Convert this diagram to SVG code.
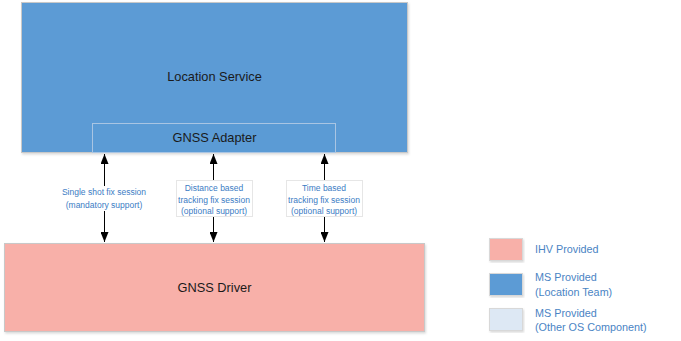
<svg xmlns="http://www.w3.org/2000/svg" width="681" height="341" viewBox="0 0 681 341">
<style>
.main{font-family:"Liberation Sans",Arial,sans-serif;font-size:12.8px;fill:#1a1a1a;text-anchor:middle}
.lbl{font-family:"Liberation Sans",Arial,sans-serif;font-size:8.5px;fill:#3b7cc4;text-anchor:middle}
.leg{font-family:"Liberation Sans",Arial,sans-serif;font-size:10.8px;fill:#4a84c4}
.line{stroke:#000;stroke-width:1;fill:none}
</style>
<defs>
<marker id="ah" viewBox="0 0 10 8" refX="10" refY="4" markerWidth="10" markerHeight="8" markerUnits="userSpaceOnUse" orient="auto-start-reverse">
<path d="M0,0 L10,4 L0,8 z" fill="#000"/>
</marker>
<filter id="sh" x="-5%" y="-5%" width="110%" height="115%">
<feDropShadow dx="1" dy="1.5" stdDeviation="1" flood-color="#000" flood-opacity="0.15"/>
</filter>
</defs>
<rect width="681" height="341" fill="#fff"/>
<g id="location-service">
<rect x="21.5" y="2.5" width="386" height="150" fill="#5b9bd5" stroke="#c8c8c8" stroke-width="1" filter="url(#sh)"/>
<text class="main" x="214.5" y="81">Location Service</text>
</g>
<g id="gnss-adapter">
<rect x="92.5" y="123.5" width="243" height="29" fill="#5b9bd5" stroke="#a9c5e3" stroke-width="1"/>
<text class="main" x="214.5" y="142">GNSS Adapter</text>
</g>
<g id="gnss-driver">
<rect x="4.5" y="243.5" width="420" height="88" fill="#f8b0a9" stroke="#c8c8c8" stroke-width="1" filter="url(#sh)"/>
<text class="main" x="214.5" y="292">GNSS Driver</text>
</g>
<g id="connectors">
<line class="line" x1="104.5" y1="154" x2="104.5" y2="242" marker-start="url(#ah)" marker-end="url(#ah)"/>
<line class="line" x1="213.5" y1="154" x2="213.5" y2="242" marker-start="url(#ah)" marker-end="url(#ah)"/>
<line class="line" x1="324.5" y1="154" x2="324.5" y2="242" marker-start="url(#ah)" marker-end="url(#ah)"/>
<rect x="60" y="186" width="88" height="25" fill="#fff"/>
<text class="lbl" x="104" y="195">Single shot fix session</text>
<text class="lbl" x="104" y="208">(mandatory support)</text>
<rect x="176.5" y="180.5" width="76" height="36" fill="#fff" stroke="#e6e6e6" stroke-width="1"/>
<text class="lbl" x="214" y="191">Distance based</text>
<text class="lbl" x="214" y="202.5">tracking fix session</text>
<text class="lbl" x="214" y="214">(optional support)</text>
<rect x="286.5" y="180.5" width="76" height="36" fill="#fff" stroke="#e6e6e6" stroke-width="1"/>
<text class="lbl" x="324" y="191">Time based</text>
<text class="lbl" x="324" y="202.5">tracking fix session</text>
<text class="lbl" x="324" y="214">(optional support)</text>
</g>
<g id="legend-ihv">
<rect x="489.5" y="238.5" width="33" height="22" fill="#f8b0a9" stroke="#d8d8d8" stroke-width="1" filter="url(#sh)"/>
<text class="leg" x="535" y="253">IHV Provided</text>
</g>
<g id="legend-ms-location">
<rect x="489.5" y="273.5" width="33" height="22" fill="#5b9bd5" stroke="#d8d8d8" stroke-width="1" filter="url(#sh)"/>
<text class="leg" x="535" y="281">MS Provided</text>
<text class="leg" x="535" y="296">(Location Team)</text>
</g>
<g id="legend-ms-other">
<rect x="489.5" y="308.5" width="33" height="22" fill="#dde8f4" stroke="#d8d8d8" stroke-width="1" filter="url(#sh)"/>
<text class="leg" x="535" y="317">MS Provided</text>
<text class="leg" x="535" y="331">(Other OS Component)</text>
</g>
</svg>
